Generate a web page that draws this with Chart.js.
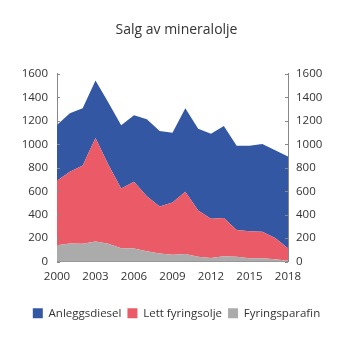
<!DOCTYPE html>
<html>
<head>
<meta charset="utf-8">
<script src="https://cdn.jsdelivr.net/npm/chart.js@4/dist/chart.umd.min.js"></script>
<style>
html,body{margin:0;padding:0;background:#fff;}
#wrap{width:353px;height:353px;}
</style>
</head>
<body>
<div id="wrap"><canvas id="c" width="353" height="353"></canvas></div>
<script>
const years = ['2000','2001','2002','2003','2004','2005','2006','2007','2008','2009','2010','2011','2012','2013','2014','2015','2016','2017','2018'];
const fyringsparafin = [141,155,152,172,152,115,112,89,69,60,66,43,32,46,43,29,29,20,9];
const lettFyringsolje = [549,612,667,882,673,508,569,468,402,445,529,394,333,327,227,230,227,181,106];
const anleggsdiesel = [474,497,488,489,531,538,566,655,641,592,712,695,724,782,718,729,747,747,781];
const title = 'Salg av mineralolje';
const FONT = "'Open Sans', sans-serif";
const TXT = '#333333';

const innerTicks = {
  id: 'innerTicks',
  afterDraw(chart) {
    const ctx = chart.ctx;
    ctx.save();
    ctx.strokeStyle = '#888';
    ctx.lineWidth = 1;
    ['y','y2'].forEach(id => {
      const s = chart.scales[id];
      const x = id === 'y' ? s.right : s.left;
      const dir = id === 'y' ? 1 : -1;
      s.ticks.forEach(t => {
        const py = Math.round(s.getPixelForValue(t.value)) + 0.5;
        ctx.beginPath();
        ctx.moveTo(x, py);
        ctx.lineTo(x + dir * 3, py);
        ctx.stroke();
      });
    });
    ctx.restore();
  }
};

new Chart(document.getElementById('c'), {
  type: 'line',
  data: {
    labels: years,
    datasets: [
      { label: 'Fyringsparafin', data: fyringsparafin, backgroundColor: '#ababab', borderWidth: 0, pointRadius: 0, fill: 'origin', tension: 0 },
      { label: 'Lett fyringsolje', data: lettFyringsolje, backgroundColor: '#ea5b67', borderWidth: 0, pointRadius: 0, fill: '-1', tension: 0 },
      { label: 'Anleggsdiesel', data: anleggsdiesel, backgroundColor: '#3457a4', borderWidth: 0, pointRadius: 0, fill: '-1', tension: 0 }
    ]
  },
  options: {
    responsive: false,
    animation: false,
    layout: { padding: { left: 0, right: 0, top: 0, bottom: 24 } },
    plugins: {
      title: { display: true, text: title, color: TXT, font: { family: FONT, size: 14, weight: 'normal' }, padding: { top: 22, bottom: 35 } },
      legend: {
        position: 'bottom', reverse: true,
        labels: { boxWidth: 10, boxHeight: 10, color: TXT, font: { family: FONT, size: 11.5 }, padding: 6 }
      },
      tooltip: { enabled: false }
    },
    scales: {
      x: {
        offset: false,
        afterFit: s => { s.height += 10; },
        grid: { display: false, drawTicks: false },
        border: { display: true, color: '#888' },
        ticks: { color: TXT, font: { family: FONT, size: 11.5 }, autoSkip: false, maxRotation: 0, padding: 8,
          callback: function(v, i) { return i % 3 === 0 ? this.getLabelForValue(v) : ''; } }
      },
      y: {
        stacked: true, min: 0, max: 1600,
        afterFit: s => { s.width = 57; },
        grid: { display: false, drawTicks: false },
        border: { display: true, color: '#888' },
        ticks: { stepSize: 200, color: TXT, font: { family: FONT, size: 11.5 }, padding: 9, callback: v => String(v) }
      },
      y2: {
        position: 'right', min: 0, max: 1600,
        afterFit: s => { s.width = 65; },
        grid: { display: false, drawTicks: false },
        border: { display: true, color: '#888' },
        ticks: { stepSize: 200, color: TXT, font: { family: FONT, size: 11.5 }, padding: 8, callback: v => String(v) }
      }
    }
  },
  plugins: [innerTicks]
});
</script>
</body>
</html>
